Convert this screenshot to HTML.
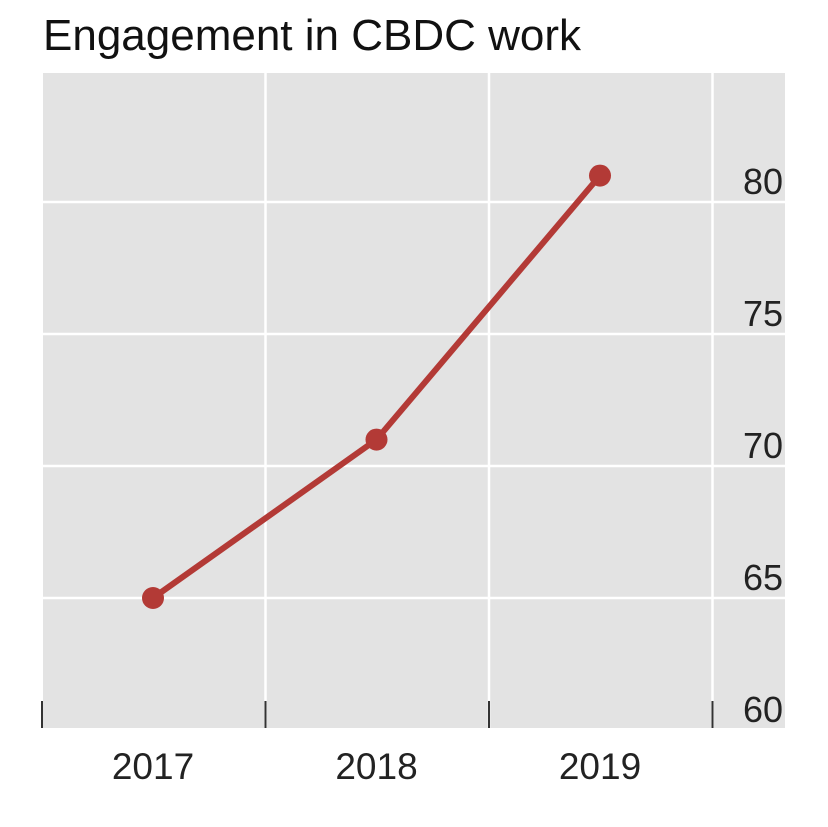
<!DOCTYPE html>
<html><head><meta charset="utf-8"><style>
body{margin:0;background:#fff;width:828px;height:827px;overflow:hidden}
svg{display:block;font-family:"Liberation Sans",sans-serif}
</style></head><body>
<svg width="828" height="827">
<text x="43" y="50" font-size="44" fill="#111">Engagement in CBDC work</text>
<rect x="43" y="73" width="742" height="655" fill="#e3e3e3"/>
<g id="grid"></g><g id="series"></g><g id="axes"></g>
</svg>
<script>
const categories=["2017","2018","2019"];
const values=[65,71,81];
const yTicks=[60,65,70,75,80];
const NS="http://www.w3.org/2000/svg";
function x(i){return 153+i*223.5;}
function y(v){return 730-(v-60)*26.4;}
function mk(t,a,p){const e=document.createElementNS(NS,t);for(const k in a)e.setAttribute(k,a[k]);p.appendChild(e);return e;}
const g=document.getElementById('grid'),s=document.getElementById('series'),ax=document.getElementById('axes');
yTicks.forEach(v=>{
 if(v>60){const l=mk('line',{x1:43,x2:785,y1:y(v),y2:y(v),stroke:'#fff','stroke-width':2.5},g);
 
 }
 const t=mk('text',{x:783,y:y(v)-8,'font-size':36,'text-anchor':'end',fill:'#222'},ax);
 t.textContent=v;
 
 
});
for(let i=0;i<=categories.length;i++){
 const bx=x(i)-111;
 if(i>0){const l=mk('line',{x1:bx,x2:bx,y1:73,y2:728,stroke:'#fff','stroke-width':2.5},g);
 
 }
 const tk=mk('line',{x1:bx,x2:bx,y1:701,y2:728,stroke:'#333','stroke-width':2},ax);
 
 
}
categories.forEach((c,i)=>{
 const t=mk('text',{x:x(i),y:779,'font-size':37,'text-anchor':'middle',fill:'#222'},ax);
 t.textContent=c;
 
 
});
const pl=mk('polyline',{points:values.map((v,i)=>x(i)+','+y(v)).join(' '),fill:'none',stroke:'#b33a36','stroke-width':6,'stroke-linejoin':'round'},s);


values.forEach((v,i)=>{
 const c=mk('circle',{cx:x(i),cy:y(v),r:11,fill:'#b33a36'},s);
 
 
});
</script>
</body></html>
